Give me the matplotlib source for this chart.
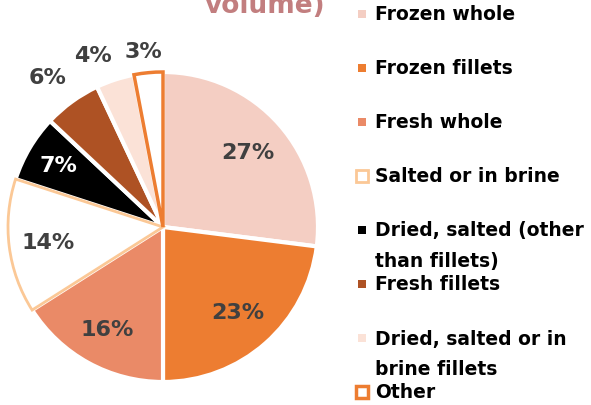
import numpy as np
import matplotlib
matplotlib.use("Agg")
import matplotlib.pyplot as plt
from matplotlib.patches import Rectangle

# data
categories = ["Frozen whole", "Frozen fillets", "Fresh whole", "Salted or in brine",
              "Dried, salted (other\nthan fillets)", "Fresh fillets",
              "Dried, salted or in\nbrine fillets", "Other"]
shares = [27, 23, 16, 14, 7, 6, 4, 3]
pct_labels = ["27%", "23%", "16%", "14%", "7%", "6%", "4%", "3%"]

face = ["#F4CEC3", "#ED7D31", "#EA8A67", "white", "black", "#AE5224", "#FBE2D7", "white"]
edge = ["white", "white", "white", "#FBC896", "white", "white", "white", "#ED7D31"]
lw = [3, 3, 3, 2, 3, 3, 3, 2.5]
label_r = [0.73, 0.73, 0.75, 0.75, 0.78, 1.22, 1.2, 1.14]
label_dth = [0, 0, 0, 0, 0, 1.5, 4, 1]  # small angular nudges for outside labels
label_col = ["#404040"] * 8
label_col[4] = "white"

W, H = 591, 406
fig = plt.figure(figsize=(W / 100, H / 100), dpi=100)

cx, cy, R = 163, 228, 155
ax = fig.add_axes([(cx - R) / W, 1 - (cy + R) / H, 2 * R / W, 2 * R / H])
wedges, _ = ax.pie(shares, colors=face, startangle=90, counterclock=False,
                   wedgeprops=dict(edgecolor="white", linewidth=3))
for w, e, l in zip(wedges, edge, lw):
    w.set_edgecolor(e)
    w.set_linewidth(l)
    if e != "white":
        w.set_zorder(3)
ax.set_xlim(-1, 1)
ax.set_ylim(-1, 1)
ax.set_aspect("equal")

for w, txt, r, d, c in zip(wedges, pct_labels, label_r, label_dth, label_col):
    mid = np.deg2rad((w.theta1 + w.theta2) / 2 + d)
    ax.text(r * np.cos(mid), r * np.sin(mid), txt, ha="center", va="center",
            fontsize=16, fontweight="bold", color=c, clip_on=False)

# title (only last line visible)
fig.text(265 / W, 1 - 13 / H, "volume)", ha="center", va="baseline",
         fontsize=19, fontweight="bold", color="#C27E7F")

# legend drawn by hand
y0, step, line_h = 15, 54, 31
for i, (lab, f, e) in enumerate(zip(categories, face, edge)):
    y = y0 + i * step
    if e != "white":
        s = 12
        fig.patches.append(Rectangle(((362 - s / 2) / W, 1 - (y + s / 2) / H), s / W, s / H,
                                     transform=fig.transFigure, facecolor="white",
                                     edgecolor=e, linewidth=2.5 if i == 7 else 2))
    else:
        s = 8
        fig.patches.append(Rectangle(((362 - s / 2) / W, 1 - (y + s / 2) / H), s / W, s / H,
                                     transform=fig.transFigure, facecolor=f,
                                     edgecolor="none"))
    for k, part in enumerate(lab.split("\n")):
        fig.text(375 / W, 1 - (y + k * line_h) / H, part, ha="left", va="center",
                 fontsize=13.5, fontweight="bold", color="black")

fig.savefig("out.png", dpi=100)
